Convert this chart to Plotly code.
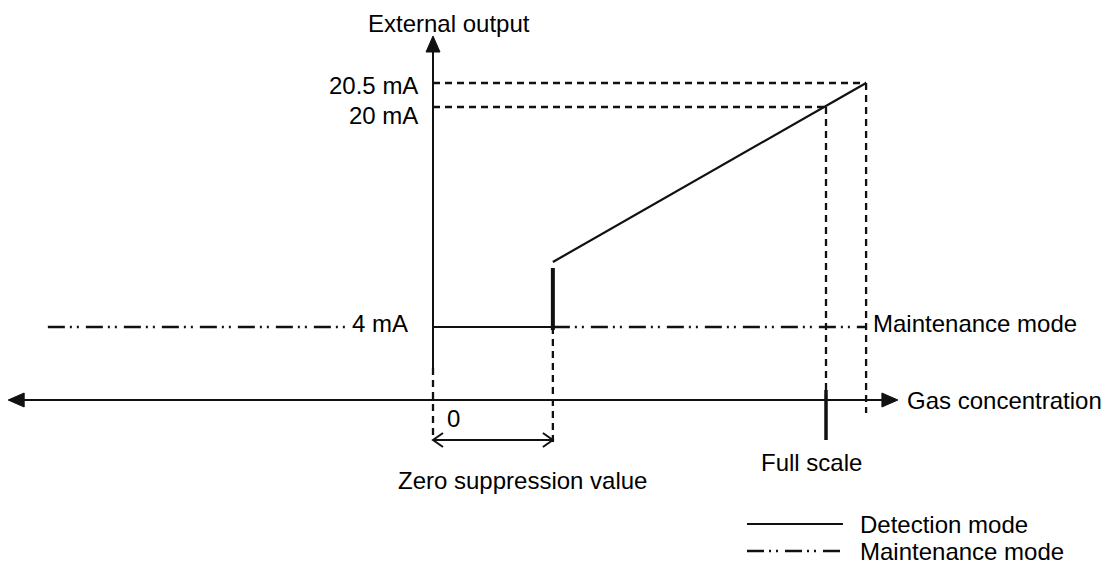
import plotly.graph_objects as go

# ---- schematic values ----
# gas concentration in % of full scale
zero_suppression = 30.5
full_scale = 100.0
over_range = 110.2
x_axis_left = -108.1
x_axis_right = 118.3
maint_left_start = -98.0
maint_left_end = -21.9

# output levels (schematic heights above the concentration axis)
level_labels = ["4 mA", "20 mA", "20.5 mA"]
level_4mA = 73
level_jump = 138
level_20mA = 293
level_20_5mA = 317
y_axis_top = 364
y_axis_solid_bottom = 32
y_axis_dash_bottom = -35

# ---- scale (px per unit) ----
XPX = 3.93
YPX = 1.0
W, H = 1109, 567
OFF = 8          # page body margin
X0PX = 433 - OFF   # figure pixel of x=0
Y0PX = 400 - OFF   # figure pixel of y=0

BLACK = "#111111"
FONT = dict(family="Liberation Sans, Arial, sans-serif", size=24, color="black")
DASH = "7px,5px"
DDOT = "17px,5px,2px,5px,2px,7px"
DW = 2.3

fig = go.Figure()

def line(xs, ys, width=2, dash="solid"):
    fig.add_trace(go.Scatter(x=xs, y=ys, mode="lines", hoverinfo="skip",
                             line=dict(color=BLACK, width=width, dash=dash),
                             showlegend=False))

def filled_arrow(tx, ty, direction, L=16, h=7):
    if direction == "right":
        xs = [tx, tx - L / XPX, tx - L / XPX, tx]
        ys = [ty, ty + h, ty - h, ty]
    elif direction == "left":
        xs = [tx, tx + L / XPX, tx + L / XPX, tx]
        ys = [ty, ty + h, ty - h, ty]
    else:  # up
        xs = [tx, tx - h / XPX, tx + h / XPX, tx]
        ys = [ty, ty - L, ty - L, ty]
    fig.add_trace(go.Scatter(x=xs, y=ys, mode="lines", fill="toself",
                             fillcolor=BLACK, line=dict(color=BLACK, width=1),
                             hoverinfo="skip", showlegend=False))

def chevron(tx, ty, direction, L=10, h=7):
    s = 1 if direction == "left" else -1
    line([tx + s * L / XPX, tx, tx + s * L / XPX], [ty + h, ty, ty - h], width=2)

# concentration axis (double arrow)
line([x_axis_left + 14 / XPX, x_axis_right - 14 / XPX], [0, 0], width=2)
filled_arrow(x_axis_left, 0, "left")
filled_arrow(x_axis_right, 0, "right")

# output axis
line([0, 0], [y_axis_solid_bottom, y_axis_top - 14], width=2)
line([0, 0], [y_axis_dash_bottom, y_axis_solid_bottom], width=DW, dash=DASH)
filled_arrow(0, y_axis_top, "up")

# reference dashed lines
line([0, over_range], [level_20_5mA, level_20_5mA], width=DW, dash=DASH)
line([0, full_scale], [level_20mA, level_20mA], width=DW, dash=DASH)
line([over_range, over_range], [level_20_5mA, -13], width=DW, dash=DASH)
line([full_scale, full_scale], [level_20mA, 0], width=DW, dash=DASH)
line([zero_suppression, zero_suppression], [level_4mA, -43], width=DW, dash=DASH)

# maintenance mode (dash-dot-dot)
line([maint_left_start, maint_left_end], [level_4mA, level_4mA], width=DW, dash=DDOT)
line([zero_suppression, over_range], [level_4mA, level_4mA], width=DW, dash=DDOT)

# detection mode
line([0, zero_suppression], [level_4mA, level_4mA], width=2.2)
line([zero_suppression, zero_suppression], [level_4mA - 3, level_jump - 6], width=4)
line([zero_suppression, over_range], [level_jump, level_20_5mA], width=2.2)

# full scale tick
line([full_scale, full_scale], [10, -40], width=3.5)

# zero suppression span arrow
line([0, zero_suppression], [-40, -40], width=2)
chevron(0, -40, "left")
chevron(zero_suppression, -40, "right")

ann = []
def text(x, y, s, xanchor="center", xshift=0, yshift=0):
    ann.append(dict(x=x, y=y, text=s, showarrow=False, xanchor=xanchor,
                    yanchor="middle", xshift=xshift, yshift=yshift, font=FONT))

text(0, y_axis_top, "External output", xshift=16, yshift=13)
text(0, level_20_5mA, level_labels[2], xanchor="right", xshift=-13, yshift=-2)
text(0, level_20mA, level_labels[1], xanchor="right", xshift=-13, yshift=-8)
text(0, level_4mA, level_labels[0], xanchor="right", xshift=-23, yshift=4)
text(0, 0, "0", xshift=20, yshift=-18)
text(zero_suppression / 2, 0, "Zero suppression value", xshift=30, yshift=-80)
text(full_scale, 0, "Full scale", xshift=-15, yshift=-62)
text(x_axis_right, 0, "Gas concentration", xanchor="left", xshift=7)
text(over_range, level_4mA, "Maintenance mode", xanchor="left", xshift=5, yshift=4)

# legend (drawn manually)
leg_x0, leg_x1, leg_tx = (747 - OFF) / W, (843 - OFF) / W, (858 - OFF) / W
leg_y1, leg_y2 = 1 - (524 - OFF) / H, 1 - (551 - OFF) / H
fig.add_shape(type="line", xref="paper", yref="paper", x0=leg_x0, x1=leg_x1,
              y0=leg_y1, y1=leg_y1, line=dict(color=BLACK, width=2))
fig.add_shape(type="line", xref="paper", yref="paper", x0=leg_x0, x1=leg_x1,
              y0=leg_y2, y1=leg_y2, line=dict(color=BLACK, width=DW, dash=DDOT))
for yy, s in [(leg_y1, "Detection mode"), (leg_y2, "Maintenance mode")]:
    ann.append(dict(x=leg_tx, y=yy, xref="paper", yref="paper", text=s,
                    showarrow=False, xanchor="left", yanchor="middle", font=FONT))

fig.update_layout(
    width=W, height=H,
    margin=dict(l=0, r=0, t=0, b=0),
    paper_bgcolor="white", plot_bgcolor="white",
    annotations=ann,
    xaxis=dict(range=[-X0PX / XPX, (W - X0PX) / XPX], visible=False, fixedrange=True),
    yaxis=dict(range=[(Y0PX - H) / YPX, Y0PX / YPX], visible=False, fixedrange=True),
)

fig.write_html("out.html")
